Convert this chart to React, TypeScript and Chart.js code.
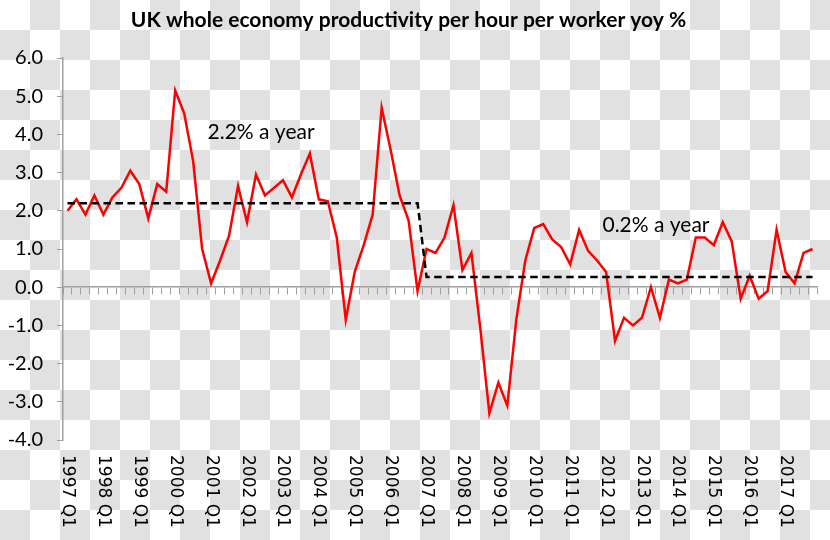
import { useEffect, useRef } from "react";
import { Chart, registerables } from "chart.js";

Chart.register(...registerables);

const TITLE = "UK whole economy productivity per hour per worker yoy %";

const YEARS = [
  1997, 1998, 1999, 2000, 2001, 2002, 2003, 2004, 2005, 2006, 2007,
  2008, 2009, 2010, 2011, 2012, 2013, 2014, 2015, 2016, 2017,
];
const QUARTERS = ["Q1", "Q2", "Q3", "Q4"];
const CATEGORIES = YEARS.flatMap((y) => QUARTERS.map((q) => `${y} ${q}`));
const LABEL_EVERY = 4;

// Productivity per hour, yoy % (1997 Q1 .. 2017 Q4)
const PRODUCTIVITY = [
  2.0, 2.3, 1.9, 2.4, 1.9, 2.35, 2.6, 3.05,
  2.7, 1.8, 2.7, 2.5, 5.15, 4.55, 3.3, 1.0,
  0.1, 0.7, 1.35, 2.65, 1.7, 2.95, 2.4, 2.6,
  2.8, 2.35, 2.95, 3.5, 2.3, 2.25, 1.3, -0.85,
  0.4, 1.1, 1.9, 4.7, 3.6, 2.4, 1.75, -0.1,
  1.0, 0.9, 1.3, 2.15, 0.45, 0.9, -1.1, -3.3,
  -2.5, -3.1, -0.85, 0.7, 1.55, 1.65, 1.25, 1.05,
  0.6, 1.5, 0.95, 0.7, 0.4, -1.4, -0.8, -1.0,
  -0.8, 0.0, -0.8, 0.2, 0.1, 0.2, 1.3, 1.3,
  1.1, 1.7, 1.2, -0.3, 0.3, -0.3, -0.1, 1.5,
  0.4, 0.1, 0.9, 1.0,
];

// Average growth trend: 2.2% a year to 2006 Q4, then 0.2% a year
const TREND = [
  2.2, 2.2, 2.2, 2.2, 2.2, 2.2, 2.2, 2.2, 2.2, 2.2,
  2.2, 2.2, 2.2, 2.2, 2.2, 2.2, 2.2, 2.2, 2.2, 2.2,
  2.2, 2.2, 2.2, 2.2, 2.2, 2.2, 2.2, 2.2, 2.2, 2.2,
  2.2, 2.2, 2.2, 2.2, 2.2, 2.2, 2.2, 2.2, 2.2, 2.2,
  0.27, 0.27, 0.27, 0.27, 0.27, 0.27, 0.27, 0.27, 0.27, 0.27, 0.27,
  0.27, 0.27, 0.27, 0.27, 0.27, 0.27, 0.27, 0.27, 0.27, 0.27, 0.27,
  0.27, 0.27, 0.27, 0.27, 0.27, 0.27, 0.27, 0.27, 0.27, 0.27, 0.27,
  0.27, 0.27, 0.27, 0.27, 0.27, 0.27, 0.27, 0.27, 0.27, 0.27, 0.27,
];

const Y_MIN = -4;
const Y_MAX = 6;
const Y_STEP = 1;

const ANNOTATION_TEXTS = ["2.2% a year", "0.2% a year"];
const ANNOTATION_INDEX = [15.6, 59.6];
const ANNOTATION_VALUE = [4.06, 1.61];

const AXIS_GRAY = "#a0a0a0";

const textPlugin = {
  id: "customText",
  afterDraw(chart: any) {
    const { ctx, chartArea } = chart;
    const x = chart.scales.x;
    const y = chart.scales.y;
    ctx.save();
    ctx.fillStyle = "#000";
    ctx.font = '17px "DejaVu Sans"';
    ctx.textAlign = "left";
    ctx.textBaseline = "middle";
    CATEGORIES.forEach((label, i) => {
      if (i % LABEL_EVERY !== 0) return;
      const px = x.getPixelForValue(i);
      ctx.save();
      ctx.translate(px, chartArea.bottom + 15);
      ctx.rotate(Math.PI / 2);
      ctx.fillText(label, 0, 0);
      ctx.restore();
    });
    ctx.font = "21px Lato";
    ANNOTATION_TEXTS.forEach((t, i) => {
      ctx.fillText(
        t,
        x.getPixelForValue(ANNOTATION_INDEX[i]),
        y.getPixelForValue(ANNOTATION_VALUE[i])
      );
    });
    ctx.restore();
  },
};

export default function App() {
  const ref = useRef<HTMLCanvasElement | null>(null);

  useEffect(() => {
    document.body.style.margin = "0";
    const canvas = ref.current;
    if (!canvas) return;
    const chart = new Chart(canvas, {
      type: "line",
      data: {
        labels: CATEGORIES,
        datasets: [
          {
            label: "Productivity yoy %",
            data: PRODUCTIVITY,
            borderColor: "#ff0000",
            borderWidth: 2.5,
            pointRadius: 0,
            tension: 0,
            fill: false,
            order: 1,
          },
          {
            label: "Trend",
            data: TREND,
            borderColor: "#000000",
            borderWidth: 2.5,
            borderDash: [7.5, 4.5],
            pointRadius: 0,
            tension: 0,
            fill: false,
            order: 0,
          },
        ],
      },
      plugins: [textPlugin],
      options: {
        responsive: false,
        animation: false,
        devicePixelRatio: 1,
        layout: { padding: { top: 0, left: 0, right: 13, bottom: 100 } },
        plugins: {
          legend: { display: false },
          tooltip: { enabled: false },
          title: {
            display: true,
            text: TITLE,
            color: "#000",
            font: { family: "Lato", size: 21, weight: "bold", lineHeight: "24px" },
            padding: { top: 8, bottom: 26 },
          },
        },
        scales: {
          x: {
            type: "category",
            position: { y: 0 } as any,
            offset: true,
            ticks: { display: false },
            grid: {
              drawOnChartArea: false,
              drawTicks: true,
              tickLength: 7,
              offset: true,
              color: AXIS_GRAY,
              lineWidth: 1,
            },
            border: { display: true, color: AXIS_GRAY, width: 1.5 },
          },
          y: {
            position: "left",
            min: Y_MIN,
            max: Y_MAX,
            afterFit: (scale: any) => {
              scale.width = 63;
            },
            ticks: {
              stepSize: Y_STEP,
              color: "#000",
              padding: 14,
              font: { family: "Lato", size: 20 },
              callback: (v: any) => Number(v).toFixed(1),
            },
            grid: {
              drawOnChartArea: false,
              drawTicks: true,
              tickLength: 6,
              color: AXIS_GRAY,
              lineWidth: 1,
            },
            border: { display: true, color: AXIS_GRAY, width: 1.5 },
          },
        },
      },
    });
    return () => chart.destroy();
  }, []);

  return (
    <div
      style={{
        width: 830,
        height: 540,
        backgroundColor: "#ffffff",
        backgroundImage:
          "conic-gradient(#e1e1e1 0 25%, #ffffff 0 50%, #e1e1e1 0 75%, #ffffff 0)",
        backgroundSize: "60px 60px",
      }}
    >
      <canvas ref={ref} width={830} height={540} style={{ display: "block", width: 830, height: 540 }} />
    </div>
  );
}
